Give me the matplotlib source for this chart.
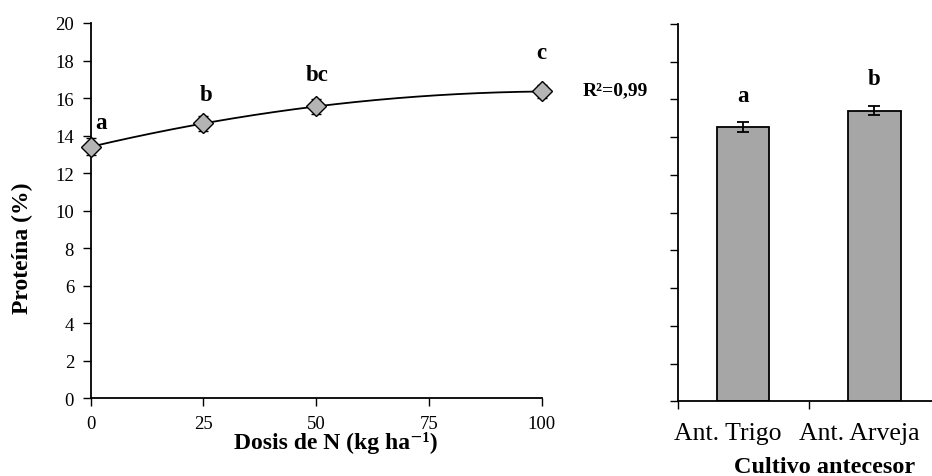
import numpy as np
import matplotlib
matplotlib.use("Agg")
import matplotlib.pyplot as plt
from matplotlib.transforms import ScaledTranslation

plt.rcParams['font.family'] = ['Liberation Serif', 'DejaVu Serif']

# Data
dosis = [0, 25, 50, 100]
proteina = [13.4, 14.65, 15.55, 16.35]
err_dosis = [0.45, 0.38, 0.38, 0.37]
letras_dosis = ['a', 'b', 'bc', 'c']

cultivos = ['Ant. Trigo', 'Ant. Arveja']
proteina_cult = [14.52, 15.4]
err_cult = [0.27, 0.25]
letras_cult = ['a', 'b']

x_ticks = [0, 25, 50, 75, 100]
y_ticks = list(range(0, 21, 2))

fig = plt.figure(figsize=(9.32, 4.77), dpi=100)

# Left panel
ax1 = fig.add_axes([0.0973, 0.1629, 0.4839, 0.7868])
coef = np.polyfit(dosis, proteina, 2)
xs = np.linspace(0, 100, 200)
ax1.plot(xs, np.polyval(coef, xs), color='black', lw=1.3, zorder=2)
ax1.errorbar(dosis, proteina, yerr=err_dosis, fmt='D', color='black',
             mfc='#b4b4b4', mec='black', mew=1.0, ms=10, ecolor='black',
             elinewidth=1.3, capsize=3.8, capthick=1.3, zorder=3, clip_on=False)
offs = [1.3, 1.55, 1.68, 2.1]
dx = [2.3, 0.5, 0.3, 0]
for x, y, l, o, d in zip(dosis, proteina, letras_dosis, offs, dx):
    ax1.text(x + d, y + o, l, ha='center', va='center',
             fontsize=16.5, fontweight='bold')
ax1.text(109, 16.45, 'R²=0,99', ha='left', va='center',
         fontsize=14, fontweight='bold')
ax1.set_xlim(0, 100)
ax1.set_ylim(0, 20)
ax1.set_xticks(x_ticks)
ax1.set_yticks(y_ticks)
ax1.tick_params(direction='out', length=6, width=1, labelsize=13.5)
ax1.tick_params(axis='x', pad=6)
ax1.tick_params(axis='y', pad=6)
for s in ['top', 'right']:
    ax1.spines[s].set_visible(False)
for s in ['left', 'bottom']:
    ax1.spines[s].set_linewidth(1.3)
ax1.set_xlabel('Dosis de N (kg ha⁻¹)', fontsize=17, fontweight='bold', va='center')
ax1.xaxis.set_label_coords(0.544, -0.1175)
ax1.set_ylabel('Proteína (%)', fontsize=17, fontweight='bold', va='center')
ax1.yaxis.set_label_coords(-0.1523, 0.403)

# Right panel
ax2 = fig.add_axes([0.7271, 0.1566, 0.2814, 0.791])
pos = np.arange(len(cultivos))
ax2.bar(pos, proteina_cult, width=0.4, color='#a6a6a6', edgecolor='black', lw=1.3, zorder=2)
ax2.errorbar(pos, proteina_cult, yerr=err_cult, fmt='none', ecolor='black',
             elinewidth=1.3, capsize=4, capthick=1.3, zorder=3)
for x, y, l, o in zip(pos, proteina_cult, letras_cult, [1.68, 1.7]):
    ax2.text(x, y + o, l, ha='center', va='center', fontsize=16.5, fontweight='bold')
ax2.set_xlim(-0.5, 1.5)
ax2.set_ylim(0, 20)
ax2.set_yticks(y_ticks)
ax2.set_yticklabels([])
ax2.set_xticks([-0.5, 0.5, 1.5])
ax2.set_xticklabels([])
ax2.set_xticks(pos, minor=True)
ax2.set_xticklabels(cultivos, minor=True)
ax2.tick_params(axis='x', which='minor', length=0, labelsize=18.5, pad=15)
ax2.tick_params(axis='x', which='major', direction='out', length=6, width=1)
ax2.tick_params(axis='y', direction='out', length=6, width=1)
shift = ScaledTranslation(-15 / 100, 0, fig.dpi_scale_trans)
for lab in ax2.get_xticklabels(minor=True):
    lab.set_transform(lab.get_transform() + shift)
for s in ['top', 'right']:
    ax2.spines[s].set_visible(False)
for s in ['left', 'bottom']:
    ax2.spines[s].set_linewidth(1.3)
ax2.set_xlabel('Cultivo antecesor', fontsize=17.5, fontweight='bold', va='center')
ax2.xaxis.set_label_coords(0.5616, -0.172)

fig.savefig('out.png', dpi=100)
